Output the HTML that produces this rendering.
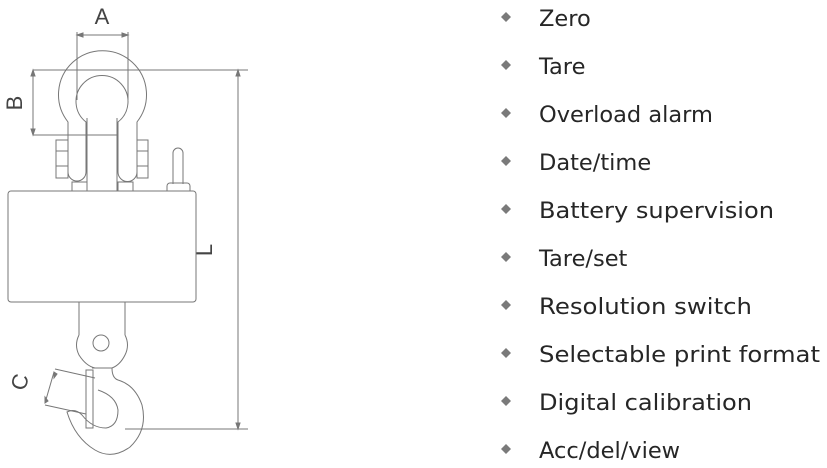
<!DOCTYPE html>
<html><head><meta charset="utf-8"><style>
html,body{margin:0;padding:0;background:#fff;width:827px;height:468px;overflow:hidden}
svg{display:block}
.t{font-family:"DejaVu Sans","Liberation Sans",sans-serif;font-size:22.5px;fill:#262626}
.d{fill:#7a7a7a}
</style></head><body>
<svg width="827" height="468" viewBox="0 0 827 468" xmlns="http://www.w3.org/2000/svg">
<g fill="none" stroke="#777" stroke-width="1">
<line x1="77" y1="35" x2="128" y2="35"/>
<line x1="77" y1="32" x2="77" y2="100"/>
<line x1="128" y1="32" x2="128" y2="100"/>
<path d="M77 35 l6 -2 v4z M128 35 l-6 -2 v4z" fill="#777"/>
<path d="M68 122 A44 44 0 1 1 137 122 L137 172 A9 9 0 0 1 118 172 L118 122 A26 26 0 1 0 86 122 L86 172 A9 9 0 0 1 68 172 Z"/>
<line x1="87" y1="118" x2="87" y2="191"/>
<line x1="117" y1="118" x2="117" y2="191"/>
<rect x="56" y="140" width="12" height="38"/>
<line x1="56" y1="151" x2="68" y2="151"/><line x1="56" y1="166" x2="68" y2="166"/>
<rect x="137" y="140" width="11" height="38"/>
<line x1="137" y1="151" x2="148" y2="151"/><line x1="137" y1="166" x2="148" y2="166"/>
<rect x="72" y="182" width="15" height="9"/>
<rect x="118" y="182" width="15" height="9"/>
<path d="M173 184 V153 A5 5 0 0 1 183 153 V184"/>
<path d="M167 191 V186 A3 3 0 0 1 170 183 H187 A3 3 0 0 1 190 186 V191"/>
<rect x="8" y="191" width="188" height="111" rx="3"/>
<line x1="33" y1="70" x2="248" y2="70"/>
<line x1="33" y1="135" x2="117" y2="135"/>
<line x1="33" y1="70" x2="33" y2="135"/>
<path d="M33 70 l-2 6 h4z M33 135 l-2 -6 h4z" fill="#777"/>
<line x1="238" y1="70" x2="238" y2="429"/>
<line x1="125" y1="429" x2="248" y2="429"/>
<path d="M238 70 l-2 6 h4z M238 429 l-2 -6 h4z" fill="#777"/>
<line x1="79" y1="302" x2="79" y2="335"/>
<line x1="125" y1="302" x2="125" y2="335"/>
<path d="M79 335 Q74 345 79 355 Q86 366 95 368 L92 368 M125 335 Q130 345 125 355 Q120 365 112 368"/>
<circle cx="101" cy="343" r="8"/>
<path d="M95 368 L112 368 Q112 378 118 380 Q135 385 142 405 Q148 430 130 447 Q112 460 95 450 Q75 438 67 412 Q75 408 82 415 Q92 428 106 428 Q118 426 118 410 Q116 396 98 390"/>
<rect x="86" y="370" width="7" height="58"/>
<line x1="55" y1="369" x2="95" y2="378"/>
<line x1="45" y1="405" x2="86" y2="414"/>
<line x1="54" y1="372" x2="45" y2="403"/>
<path d="M54 372 l0 6 l3 -4z M45 403 l0 -6 l3 4z" fill="#777"/>
</g>
<g font-family="Liberation Sans,sans-serif" font-size="22" fill="#444">
<text x="102" y="24" text-anchor="middle">A</text>
<text x="0" y="0" transform="translate(22,103) rotate(-90)" text-anchor="middle">B</text>
<text x="0" y="0" transform="translate(27,384) rotate(-75)" text-anchor="middle">C</text>
<text x="0" y="0" transform="translate(212,250) rotate(-90)" text-anchor="middle">L</text>
</g>
<g>
<path class="d" d="M506 12 l5 5 l-5 5 l-5 -5z"/>
<path class="d" d="M506 60 l5 5 l-5 5 l-5 -5z"/>
<path class="d" d="M506 108 l5 5 l-5 5 l-5 -5z"/>
<path class="d" d="M506 156 l5 5 l-5 5 l-5 -5z"/>
<path class="d" d="M506 204 l5 5 l-5 5 l-5 -5z"/>
<path class="d" d="M506 252 l5 5 l-5 5 l-5 -5z"/>
<path class="d" d="M506 300 l5 5 l-5 5 l-5 -5z"/>
<path class="d" d="M506 348 l5 5 l-5 5 l-5 -5z"/>
<path class="d" d="M506 396 l5 5 l-5 5 l-5 -5z"/>
<path class="d" d="M506 444 l5 5 l-5 5 l-5 -5z"/>
</g>
<g class="t">
<text x="539" y="26">Zero</text>
<text x="539" y="74">Tare</text>
<text x="539" y="122">Overload alarm</text>
<text x="539" y="170">Date/time</text>
<text x="539" y="218" textLength="235" lengthAdjust="spacingAndGlyphs">Battery supervision</text>
<text x="539" y="266">Tare/set</text>
<text x="539" y="314" textLength="213" lengthAdjust="spacingAndGlyphs">Resolution switch</text>
<text x="539" y="362" textLength="281" lengthAdjust="spacingAndGlyphs">Selectable print format</text>
<text x="539" y="410" textLength="213" lengthAdjust="spacingAndGlyphs">Digital calibration</text>
<text x="539" y="458">Acc/del/view</text>
</g>
</svg>
</body></html>
